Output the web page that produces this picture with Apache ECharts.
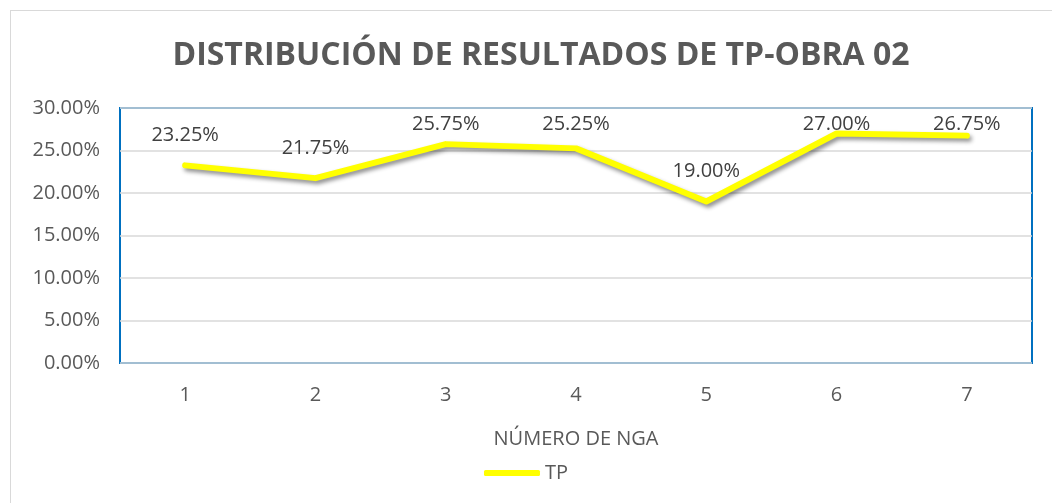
<!DOCTYPE html>
<html>
<head>
<meta charset="utf-8">
<script src="https://cdn.jsdelivr.net/npm/echarts@6/dist/echarts.min.js"></script>
<style>
  html, body { margin: 0; padding: 0; background: #fff; }
  #chart { width: 1052px; height: 503px; }
  .frame { position: absolute; left: 10px; top: 10px; width: 1060px; height: 500px; border: 1px solid #d9d9d9; }
</style>
</head>
<body>
<div class="frame"></div>
<div id="chart" style="position:absolute;left:0;top:0;"></div>
<script>
// categories and values (percent)
const categories = ["1", "2", "3", "4", "5", "6", "7"];
const tpValues = [23.25, 21.75, 25.75, 25.25, 19.0, 27.0, 26.75];
const seriesName = "TP";
const chartTitle = "DISTRIBUCIÓN DE RESULTADOS DE TP-OBRA 02";
const xAxisName = "NÚMERO DE NGA";

const font = "'Open Sans', 'Liberation Sans', sans-serif";
const textColor = "#595959";

const chart = echarts.init(document.getElementById("chart"));

chart.setOption({
  animation: false,
  textStyle: { fontFamily: font },
  title: {
    text: chartTitle,
    left: 536,
    textAlign: "center",
    top: 35,
    textStyle: { fontSize: 32, fontWeight: "bold", color: textColor, fontFamily: font }
  },
  legend: {
    bottom: 15,
    left: "center",
    itemWidth: 56,
    itemHeight: 6,
    itemGap: 4,
    icon: "roundRect",
    textStyle: { fontSize: 20, color: textColor },
    data: [{ name: seriesName, itemStyle: { color: "#FFFF00" } }]
  },
  grid: {
    left: 120,
    right: 20,
    top: 108,
    bottom: 140,
    show: true,
    borderColor: "#0070C0",
    borderWidth: 2
  },
  xAxis: {
    type: "category",
    data: categories,
    boundaryGap: true,
    name: xAxisName,
    nameLocation: "middle",
    nameGap: 66,
    nameTextStyle: { fontSize: 20, color: textColor },
    axisLine: { show: false },
    axisTick: { show: false },
    axisLabel: { fontSize: 20, color: textColor, margin: 22 }
  },
  yAxis: {
    type: "value",
    min: 0,
    max: 30,
    interval: 5,
    axisLine: { show: false },
    axisTick: { show: false },
    axisLabel: {
      fontSize: 20,
      color: textColor,
      margin: 20,
      formatter: (v) => v.toFixed(2) + "%"
    },
    splitLine: { lineStyle: { color: "#d9d9d9", width: 1.5 } }
  },
  series: [
    {
      name: seriesName,
      type: "line",
      data: tpValues,
      symbol: "circle",
      symbolSize: 0.5,
      showSymbol: true,
      lineStyle: {
        width: 6,
        color: "#FFFF00",
        cap: "round",
        join: "round",
        shadowColor: "rgba(0,0,0,0.45)",
        shadowBlur: 4,
        shadowOffsetX: 2,
        shadowOffsetY: 3
      },
      itemStyle: { color: "#FFFF00" },
      label: {
        show: true,
        position: "top",
        distance: 20,
        fontSize: 20,
        color: "#404040",
        formatter: (p) => p.value.toFixed(2) + "%"
      },
      // keep labels inside the plot area, like the spreadsheet does
      labelLayout: (params) => {
        const r = params.labelRect;
        return { dy: Math.max(0, 114 - r.y) };
      }
    }
  ]
});
</script>
</body>
</html>
